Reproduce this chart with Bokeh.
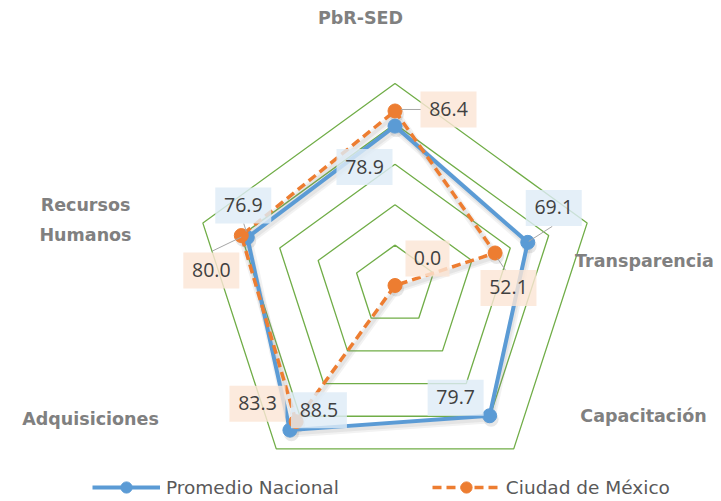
import numpy as np
from bokeh.plotting import figure
from bokeh.models import Range1d, Legend, LegendItem, ColumnDataSource
from bokeh.core.properties import value
from bokeh.embed import file_html
from bokeh.resources import INLINE

# ---------------- data ----------------
categories = ["PbR-SED", "Transparencia", "Capacitación", "Adquisiciones", "Recursos Humanos"]
promedio_nacional = [78.9, 69.1, 79.7, 88.5, 76.9]
ciudad_de_mexico = [86.4, 52.1, 0.0, 83.3, 80.0]
grid_levels = [20, 40, 60, 80, 100]
series_names = ["Promedio Nacional", "Ciudad de México"]

# ---------------- layout / style ----------------
W, H = 721, 501
S = 2.02              # pixels per value unit
CX, CY = 394.5, 285   # radar centre on the canvas (px)
BLUE, ORANGE, GREEN = "#5B9BD5", "#ED7D31", "#70AD47"

angles = np.pi / 2 - np.arange(len(categories)) * 2 * np.pi / len(categories)


def polar(vals):
    v = np.asarray(vals, dtype=float)
    return v * np.cos(angles), v * np.sin(angles)


def page_to_data(px, py):
    return (px - CX) / S, (CY - py) / S


def closed(a):
    return np.append(a, a[0])


p = figure(width=W, height=H, output_backend="svg", toolbar_location=None,
           x_range=Range1d(-CX / S, (W - CX) / S),
           y_range=Range1d(-(H - CY) / S, CY / S),
           min_border=0, x_axis_location=None, y_axis_location=None)
p.xgrid.visible = False
p.ygrid.visible = False
p.outline_line_color = None
p.background_fill_color = "white"
p.border_fill_color = "white"

# grid pentagons
for lvl in grid_levels:
    gx, gy = polar([lvl] * len(categories))
    p.line(closed(gx), closed(gy), line_color=GREEN, line_width=1.3)

# series
bx, by = polar(promedio_nacional)
ox, oy = polar(ciudad_de_mexico)

# soft shadows
SHX, SHY = 1.5 / S, -3.5 / S
for xs, ys in ((bx, by), (ox, oy)):
    p.line(closed(xs) + SHX, closed(ys) + SHY, line_color="#808080", line_width=8,
           line_alpha=0.10, line_join="round")
    p.line(closed(xs) + SHX, closed(ys) + SHY, line_color="#808080", line_width=4,
           line_alpha=0.12, line_join="round")
    p.scatter(xs + SHX, ys + SHY, size=15, fill_color="#808080", fill_alpha=0.18,
              line_color=None)

bl = p.line(closed(bx), closed(by), line_color=BLUE, line_width=4, line_join="round")
bs = p.scatter(bx, by, size=14, fill_color=BLUE, line_color=BLUE)
ol = p.line(closed(ox), closed(oy), line_color=ORANGE, line_width=3.5,
            line_dash="9 5", line_join="round")
osc = p.scatter(ox, oy, size=14, fill_color=ORANGE, line_color=ORANGE)

# data labels: offsets of box centre from the point (screen px, y down)
blue_offsets = [(-30.5, 41), (26, -34.4), (-34, -18), (29, -20), (-4, -32)]
orange_offsets = [(53.5, -1.5), (13.4, 35), (32.5, -27), (-38.6, -18), (-30, 35)]
# leader lines (start, end) offsets from the point (screen px, y down)
blue_leaders = {1: ((1, -1), (24.5, -16)), 4: ((-1, -6), (-3.5, -14))}
orange_leaders = {0: ((6, -1.5), (26, -1.5)), 1: ((2.5, 5.5), (10.5, 17.5)),
                  4: ((0, 1.5), (-29, 15.5))}

TEXT_SHIFT = -7.5  # correction for the renderer's baseline placement (px)


def add_labels(xs, ys, vals, offsets, leaders, box_color):
    for i, (lo0, lo1) in leaders.items():
        p.line([xs[i] + lo0[0] / S, xs[i] + lo1[0] / S],
               [ys[i] - lo0[1] / S, ys[i] - lo1[1] / S],
               line_color="#A6A6A6", line_width=1)
    lx = [x + d[0] / S for x, d in zip(xs, offsets)]
    ly = [y - d[1] / S for y, d in zip(ys, offsets)]
    texts = [f"{v:.1f}" for v in vals]
    widths = [44 if len(t) <= 3 else 56 for t in texts]
    src = ColumnDataSource(dict(x=lx, y=ly, t=texts, w=widths))
    p.rect("x", "y", width="w", height=36, width_units="screen", height_units="screen",
           source=src, fill_color=box_color, fill_alpha=0.82, line_color=None)
    p.text("x", "y", text="t", source=src, text_align="center", text_baseline="alphabetic",
           y_offset=7 + TEXT_SHIFT, text_font=value("Open Sans"), text_font_size="19.5px",
           text_color="#404040")


add_labels(bx, by, promedio_nacional, blue_offsets, blue_leaders, "#DEEBF7")
add_labels(ox, oy, ciudad_de_mexico, orange_offsets, orange_leaders, "#FBE5D6")

# category labels (page positions of baseline anchor)
cat_pos = {
    "PbR-SED": [("PbR-SED", 360, 25)],
    "Transparencia": [("Transparencia", 644, 267.5)],
    "Capacitación": [("Capacitación", 643, 423)],
    "Adquisiciones": [("Adquisiciones", 90, 426)],
    "Recursos Humanos": [("Recursos", 85, 211.5), ("Humanos", 85, 241.5)],
}
cx_, cy_, ct_ = [], [], []
for cat in categories:
    for txt, px, py in cat_pos[cat]:
        dx, dy = page_to_data(px, py + TEXT_SHIFT)
        cx_.append(dx)
        cy_.append(dy)
        ct_.append(txt)
p.text(cx_, cy_, text=ct_, text_align="center", text_baseline="alphabetic",
       text_font=value("DejaVu Sans"), text_font_style="bold", text_font_size="17.5px",
       text_color="#808080")

legend = Legend(items=[LegendItem(label=series_names[0], renderers=[bl, bs]),
                       LegendItem(label=series_names[1], renderers=[ol, osc])],
                orientation="horizontal", location=(92, 0),
                glyph_width=68, glyph_height=28, label_height=20, label_standoff=6,
                spacing=93, padding=0, margin=0, border_line_color=None,
                background_fill_alpha=0,
                label_text_font="DejaVu Sans", label_text_font_size="18.5px",
                label_text_color="#595959")
p.add_layout(legend)

open("out.html", "w").write(file_html(p, INLINE))
